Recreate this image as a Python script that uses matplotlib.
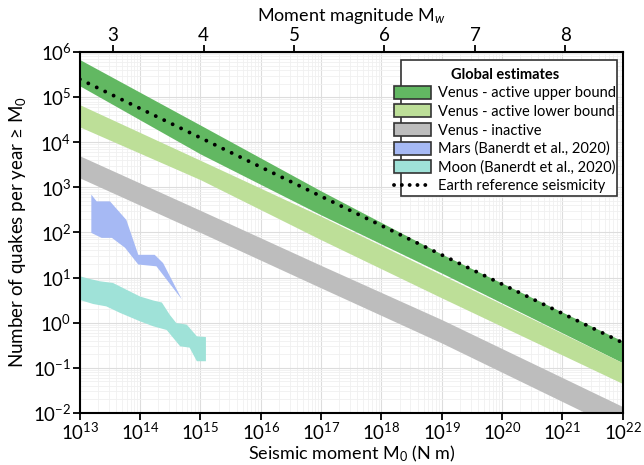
import numpy as np
import matplotlib
matplotlib.use("Agg")
import matplotlib.pyplot as plt
from matplotlib.patches import Patch, Rectangle
from matplotlib.lines import Line2D
from matplotlib.ticker import LogLocator, NullLocator, NullFormatter, FixedLocator, FuncFormatter

plt.rcParams['font.family'] = ['Lato', 'DejaVu Sans']
plt.rcParams['mathtext.fontset'] = 'custom'
plt.rcParams['mathtext.rm'] = 'Lato'
plt.rcParams['mathtext.it'] = 'Lato:italic'
plt.rcParams['mathtext.bf'] = 'Lato:bold'

# Venus bands (seismic moment in N m, quakes per year)
m0_band = [1e13, 1e15, 1e17, 1e19, 1e22]
upper_hi = [6.8e5, 2.4e4, 832, 33.1, 0.39]
upper_lo = [1.78e5, 5.5e3, 245, 12.6, 0.129]
lower_hi = [6.8e4, 3.98e3, 229, 11.5, 0.129]
lower_lo = [2.19e4, 1.48e3, 69, 3.55, 0.0447]
inactive_hi = [5.0e3, 309, 18.6, 1.17, 0.0138]
inactive_lo = [1.62e3, 100, 5.9, 0.355, 0.004]

# Mars
mars_top_x = [1.55e13, 1.9e13, 3.16e13, 5.9e13, 9.3e13, 1.74e14, 2.4e14, 4.9e14]
mars_top_y = [692, 490, 490, 190, 32, 32, 21, 3.3]
mars_bot_x = [1.55e13, 2.3e13, 3.4e13, 5.6e13, 9.3e13, 1.86e14, 4.9e14]
mars_bot_y = [98, 76, 76, 46, 19.5, 17.8, 3.3]

# Moon
moon_top_x = [1e13, 1.48e13, 2.14e13, 3.55e13, 5.9e13, 1e14, 1.66e14, 2.29e14,
              3.09e14, 3.98e14, 5.9e14, 8.7e14, 1.23e15]
moon_top_y = [10.7, 9.3, 8.3, 7.6, 5.4, 3.8, 3.1, 2.8, 1.5, 0.98, 0.91, 0.5, 0.48]
moon_bot_x = [1e13, 1.66e13, 2.75e13, 4.6e13, 1e14, 1.66e14, 2.75e14, 4.6e14,
              6.6e14, 8.7e14, 1.23e15]
moon_bot_y = [3.2, 2.6, 2.3, 1.66, 1.07, 0.83, 0.69, 0.30, 0.28, 0.14, 0.14]

# Earth reference
earth_x = [1e13, 1e22]
earth_y = [2.5e5, 0.36]

mw_ticks = [3, 4, 5, 6, 7, 8]

c_upper = '#62b862'
c_lower = '#bddf98'
c_inact = '#bdbdbd'
c_mars = '#a6b9f4'
c_moon = '#9fe2d8'

fig = plt.figure(figsize=(6.44, 4.65), dpi=100)
ax = fig.add_axes([0.124, 0.112, 0.843, 0.776])
ax.set_xscale('log')
ax.set_yscale('log')

ax.fill_between(m0_band, upper_lo, upper_hi, color=c_upper, lw=0, zorder=2)
ax.fill_between(m0_band, lower_lo, lower_hi, color=c_lower, lw=0, zorder=2)
ax.fill_between(m0_band, inactive_lo, inactive_hi, color=c_inact, lw=0, zorder=2)
ax.fill(mars_top_x + mars_bot_x[::-1], mars_top_y + mars_bot_y[::-1],
        color=c_mars, lw=0, zorder=2)
ax.fill(moon_top_x + moon_bot_x[::-1], moon_top_y + moon_bot_y[::-1],
        color=c_moon, lw=0, zorder=2)
ax.plot(earth_x, earth_y, color='black', lw=2.8, linestyle=(0, (0.01, 2.4)),
        dash_capstyle='round', zorder=3)

ax.set_xlim(1e13, 1e22)
ax.set_ylim(1e-2, 1e6)
ax.set_xticks([10.0**k for k in range(13, 23)])
ax.set_yticks([10.0**k for k in range(-2, 7)])
ax.xaxis.set_minor_locator(LogLocator(base=10, subs=np.arange(2, 10), numticks=20))
ax.yaxis.set_minor_locator(LogLocator(base=10, subs=np.arange(2, 10), numticks=20))
ax.xaxis.set_minor_formatter(NullFormatter())
ax.yaxis.set_minor_formatter(NullFormatter())
ax.grid(True, which='major', color='#dddddd', lw=0.8, zorder=0)
ax.grid(True, which='minor', color='#f0f0f0', lw=0.6, zorder=0)
ax.set_axisbelow(True)

ax.tick_params(which='major', labelsize=13.5, length=5, width=1.3, direction='out', pad=1)
ax.tick_params(which='minor', length=0)
for s in ax.spines.values():
    s.set_linewidth(1.5)

ax.set_xlabel('Seismic moment M$_0$ (N m)', fontsize=13)
ax.xaxis.set_label_coords(0.5, -0.085)
ax.set_ylabel('Number of quakes per year ≥ M$_0$', fontsize=13.5, labelpad=4)


def m0_to_mw(m0):
    return (np.log10(np.clip(m0, 1e-30, None)) - 9.05) / 1.5


def mw_to_m0(mw):
    return 10.0 ** (1.5 * np.asarray(mw) + 9.05)


sec = ax.secondary_xaxis('top', functions=(m0_to_mw, mw_to_m0))
sec.set_xscale('linear')
sec.xaxis.set_major_locator(FixedLocator(mw_ticks))
sec.xaxis.set_major_formatter(FuncFormatter(lambda v, p: '%d' % round(v)))
sec.xaxis.set_minor_locator(NullLocator())
sec.tick_params(labelsize=13.5, length=5, width=1.3, direction='out', pad=1)
sec.set_xlabel('Moment magnitude M$_w$', fontsize=13, labelpad=4)

handles = [
    Patch(facecolor=c_upper, edgecolor='#333333', lw=1.2, label='Venus - active upper bound'),
    Patch(facecolor=c_lower, edgecolor='#333333', lw=1.2, label='Venus - active lower bound'),
    Patch(facecolor=c_inact, edgecolor='#333333', lw=1.2, label='Venus - inactive'),
    Patch(facecolor=c_mars, edgecolor='#333333', lw=1.2, label='Mars (Banerdt et al., 2020)'),
    Patch(facecolor=c_moon, edgecolor='#333333', lw=1.2, label='Moon (Banerdt et al., 2020)'),
    Line2D([0], [0], color='black', lw=2.8, linestyle=(0, (0.01, 2.0)),
           dash_capstyle='round', label='Earth reference seismicity'),
]

# legend frame (the handles stick out of its left side in the original)
ax.add_patch(Rectangle((0.591, 0.601), 0.398, 0.377, transform=ax.transAxes,
                       facecolor='white', edgecolor='#333333', lw=1.2, zorder=4))
leg = ax.legend(handles=handles, loc='upper left', bbox_to_anchor=(0.56, 0.985),
                frameon=False, fontsize=10.5, handlelength=2.5, handleheight=1.0,
                handletextpad=0.5, labelspacing=0.28, borderpad=0.2,
                title='Global estimates', title_fontproperties={'weight': 'bold', 'size': 10.5})
leg.set_zorder(5)

fig.savefig('out.png', dpi=100)
